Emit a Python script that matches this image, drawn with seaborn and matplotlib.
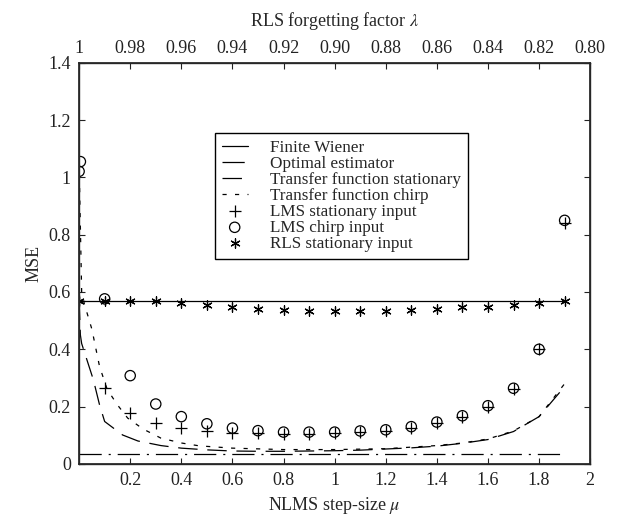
import matplotlib
matplotlib.use("Agg")
import matplotlib.pyplot as plt
import seaborn as sns
import pandas as pd
import numpy as np

# ---------------- data ----------------
mu_grid = [0.0, 0.1, 0.2, 0.3, 0.4, 0.5, 0.6, 0.7, 0.8, 0.9, 1.0,
           1.1, 1.2, 1.3, 1.4, 1.5, 1.6, 1.7, 1.8, 1.9]

finite_wiener_x = [0.0, 1.9]
finite_wiener_y = [0.570, 0.570]

optimal_x = [0.0, 1.9]
optimal_y = [0.035, 0.035]

tf_stat_x = [0.0, 0.005, 0.01, 0.056, 0.08, 0.10, 0.17, 0.23, 0.32, 0.4, 0.5,
             0.6, 0.7, 0.8, 0.9, 1.0, 1.1, 1.2, 1.3, 1.4, 1.5, 1.6, 1.7, 1.8, 1.9]
tf_stat_y = [0.57, 0.45, 0.42, 0.293, 0.206, 0.148, 0.101, 0.080, 0.064, 0.055, 0.049,
             0.045, 0.044, 0.044, 0.045, 0.046, 0.048, 0.052, 0.056, 0.062, 0.072,
             0.085, 0.113, 0.165, 0.270]

tf_chirp_x = [0.0, 0.01, 0.02, 0.05, 0.08, 0.11, 0.15, 0.19, 0.25, 0.32, 0.4, 0.47,
              0.6, 0.8, 1.0, 1.2, 1.4, 1.5, 1.6, 1.7, 1.8, 1.9]
tf_chirp_y = [1.05, 0.60, 0.56, 0.47, 0.34, 0.26, 0.206, 0.16, 0.122, 0.090, 0.073, 0.063,
              0.055, 0.050, 0.050, 0.053, 0.064, 0.073, 0.087, 0.115, 0.165, 0.280]

lms_stat_y = [0.570, 0.264, 0.179, 0.144, 0.125, 0.116, 0.109, 0.107, 0.105, 0.105, 0.107,
              0.110, 0.115, 0.127, 0.143, 0.165, 0.200, 0.260, 0.400, 0.840]

lms_chirp_x = [0.0, 0.005, 0.1, 0.2, 0.3, 0.4, 0.5, 0.6, 0.7, 0.8, 0.9, 1.0,
               1.1, 1.2, 1.3, 1.4, 1.5, 1.6, 1.7, 1.8, 1.9]
lms_chirp_y = [1.021, 1.055, 0.576, 0.308, 0.209, 0.165, 0.140, 0.125, 0.116, 0.111, 0.111,
               0.111, 0.115, 0.119, 0.130, 0.146, 0.168, 0.203, 0.264, 0.400, 0.850]

rls_stat_y = [0.570, 0.567, 0.567, 0.567, 0.561, 0.553, 0.549, 0.541, 0.538, 0.534, 0.534,
              0.534, 0.534, 0.538, 0.541, 0.546, 0.549, 0.555, 0.563, 0.567]

x_ticks = [0.2, 0.4, 0.6, 0.8, 1.0, 1.2, 1.4, 1.6, 1.8, 2.0]
x_ticklabels = ["0.2", "0.4", "0.6", "0.8", "1", "1.2", "1.4", "1.6", "1.8", "2"]
y_ticks = [0, 0.2, 0.4, 0.6, 0.8, 1.0, 1.2, 1.4]
y_ticklabels = ["0", "0.2", "0.4", "0.6", "0.8", "1", "1.2", "1.4"]
top_ticks = [1.0, 0.98, 0.96, 0.94, 0.92, 0.90, 0.88, 0.86, 0.84, 0.82, 0.80]
top_ticklabels = ["1", "0.98", "0.96", "0.94", "0.92", "0.90", "0.88", "0.86",
                  "0.84", "0.82", "0.80"]

# ---------------- style ----------------
sns.set_theme(style="ticks")
plt.rcParams["font.family"] = ["Liberation Serif", "DejaVu Serif"]
plt.rcParams["mathtext.fontset"] = "stix"
plt.rcParams["lines.scale_dashes"] = False

fig = plt.figure(figsize=(6.18, 5.23), dpi=100)
ax = fig.add_axes([0.128, 0.113, 0.827, 0.767])

lw = 0.9
sns.lineplot(x=finite_wiener_x, y=finite_wiener_y, ax=ax, color="black", lw=lw,
             label="Finite Wiener", sort=False)
sns.lineplot(x=optimal_x, y=optimal_y, ax=ax, color="black", lw=lw,
             label="Optimal estimator", sort=False)
ax.lines[-1].set_dashes((16, 5, 1.5, 5))
sns.lineplot(x=tf_stat_x, y=tf_stat_y, ax=ax, color="black", lw=lw,
             label="Transfer function stationary", sort=False)
ax.lines[-1].set_dashes((14, 7))
sns.lineplot(x=tf_chirp_x, y=tf_chirp_y, ax=ax, color="black", lw=lw,
             label="Transfer function chirp", sort=False)
ax.lines[-1].set_dashes((3, 6))

sns.scatterplot(x=mu_grid, y=lms_stat_y, ax=ax, marker="+", s=65, color="black",
                linewidth=0.9, label="LMS stationary input")
sns.scatterplot(x=lms_chirp_x, y=lms_chirp_y, ax=ax, marker="o", s=55,
                facecolor="none", edgecolor="black", linewidth=0.9,
                label="LMS chirp input")
sns.scatterplot(x=mu_grid, y=rls_stat_y, ax=ax, marker=(6, 2, 0), s=45, color="black",
                linewidth=0.9, label="RLS stationary input")

ax.set_xlim(0, 2)
ax.set_ylim(0, 1.4)
ax.set_xticks(x_ticks)
ax.set_xticklabels(x_ticklabels)
ax.set_yticks(y_ticks)
ax.set_yticklabels(y_ticklabels)
ax.tick_params(direction="in", length=4, width=0.8, labelsize=13, colors="#222222",
               right=True, pad=6)
ax.set_xlabel(r"NLMS step-size $\mu$", fontsize=13)
ax.set_ylabel("MSE", fontsize=13)
for sp in ax.spines.values():
    sp.set_linewidth(1.0)
    sp.set_color("#333333")

ax2 = ax.twiny()
ax2.set_xlim(1.0, 0.8)
ax2.set_xticks(top_ticks)
ax2.set_xticklabels(top_ticklabels)
ax2.tick_params(direction="in", length=4, width=0.8, labelsize=13, colors="#222222", pad=4)
ax2.set_xlabel(r"RLS forgetting factor $\lambda$", fontsize=13, labelpad=10)

leg = ax.legend(loc="upper left", bbox_to_anchor=(0.266, 0.825), borderaxespad=0,
                fontsize=12.3, frameon=True, fancybox=False, edgecolor="black",
                framealpha=1, handlelength=1.5, borderpad=0.4, labelspacing=0.0,
                handletextpad=1.3)
leg.get_frame().set_linewidth(1.0)

fig.savefig("out.png", dpi=100)
